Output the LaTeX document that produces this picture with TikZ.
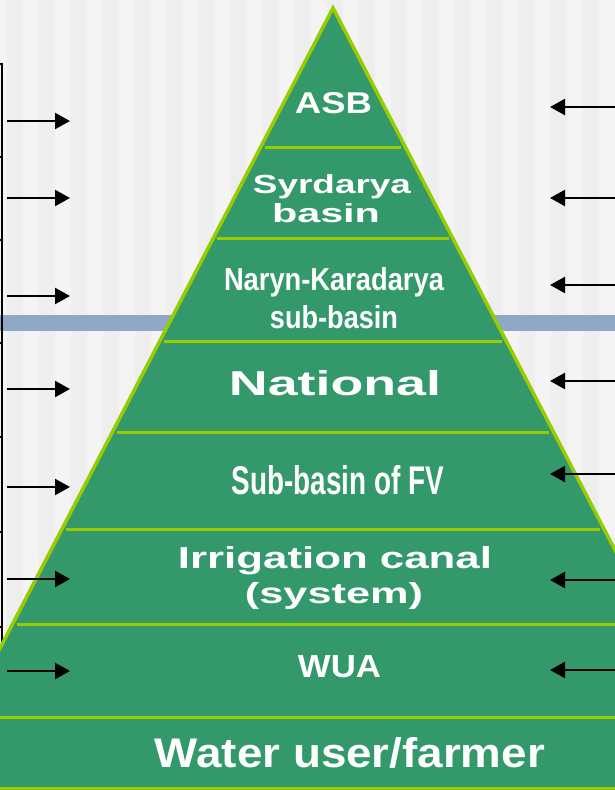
\documentclass[tikz,border=0pt]{standalone}
\usepackage{fontspec}
\setmainfont{Liberation Sans}
\usetikzlibrary{arrows.meta}

\definecolor{pyrgreen}{RGB}{52,153,106}
\definecolor{pyredge}{RGB}{153,204,0}
\definecolor{stripeA}{RGB}{244,244,244}
\definecolor{stripeB}{RGB}{238,238,238}
\definecolor{bandblue}{RGB}{143,168,197}

% one line of label text, fitted to a given ink width and height
\newcommand{\fitline}[3]{\resizebox{#1pt}{#2pt}{\bfseries #3}}

\begin{document}
\begin{tikzpicture}[x=1pt,y=-1pt,
  lbl/.style={text=white,inner sep=0pt,anchor=base},
  arr/.style={line width=2.3pt,-{Triangle[length=15pt,width=16pt]}},
  tier/.style={draw=pyredge,line width=3pt},
  sidebox/.style={draw=black,line width=2pt}]
\useasboundingbox (0,0) rectangle (615,790);
\clip (0,0) rectangle (615,790);

% striped backdrop
\fill[stripeA] (0,0) rectangle (615,790);
\foreach \i in {0,...,19}
  \fill[stripeB] ({7+32*\i},0) rectangle ({23+32*\i},790);

% horizontal band
\fill[bandblue] (0,315) rectangle (615,331);

% side boxes on the left
\foreach \a/\b in {64/157,157/240,240/343,343/437,437/532,532/627,627/722}
  \draw[sidebox] (-30,\a) rectangle (2,\b);

% pyramid body
\coordinate (apex) at (333,8);
\coordinate (footL) at (-80,802);
\coordinate (footR) at (746,802);
\fill[pyrgreen] (apex) -- (footL) -- (footR) -- cycle;
\draw[pyredge,line width=3.5pt,line join=miter] (footL) -- (apex) -- (footR);

% tier separators
\foreach \y in {147,238,341,432,529,624}
  \draw[tier] ({333-0.52*(\y-8)+4},\y) -- ({333+0.52*(\y-8)-4},\y);

% base tier
\fill[pyrgreen] (0,717) rectangle (615,790);
\draw[tier] (0,717) -- (615,717);
\draw[tier] (0,788) -- (615,788);

% tier labels
\node[lbl] (asb) at (333.5,113) {\fitline{77}{21}{ASB}};
\node[lbl] (syr1) at (332,193) {\fitline{158}{19}{Syrdarya}};
\node[lbl] (syr2) at (326,222) {\fitline{108}{19}{basin}};
\node[lbl] (nk1) at (334,290) {\fitline{220}{23}{Naryn-Karadarya}};
\node[lbl] (nk2) at (334,328) {\fitline{128}{23}{sub-basin}};
\node[lbl] (nat) at (335,395) {\fitline{212}{25}{National}};
\node[lbl] (sbfv) at (338,494) {\fitline{212}{29}{Sub-basin of FV}};
\node[lbl] (irr1) at (335,568) {\fitline{314}{22}{Irrigation canal}};
\node[lbl] (irr2) at (334,603) {\fitline{178}{21}{(system)}};
\node[lbl] (wua) at (339.5,677) {\fitline{83}{22}{WUA}};
\node[lbl] (wuf) at (350,767) {\fitline{390}{30}{Water user/farmer}};

% arrows from the left
\foreach \n/\y in {1/121,2/198,3/296,4/389,5/487,6/579,7/671}{
  \coordinate (ls\n) at (7,\y);
  \coordinate (le\n) at (70,\y);
  \draw[arr] (ls\n) -- (le\n);
}
% arrows from the right
\foreach \n/\y in {1/107,2/198,3/285,4/381,5/474,6/580,7/670}{
  \coordinate (rs\n) at (616,\y);
  \coordinate (re\n) at (550,\y);
  \draw[arr] (rs\n) -- (re\n);
}
\end{tikzpicture}
\end{document}
